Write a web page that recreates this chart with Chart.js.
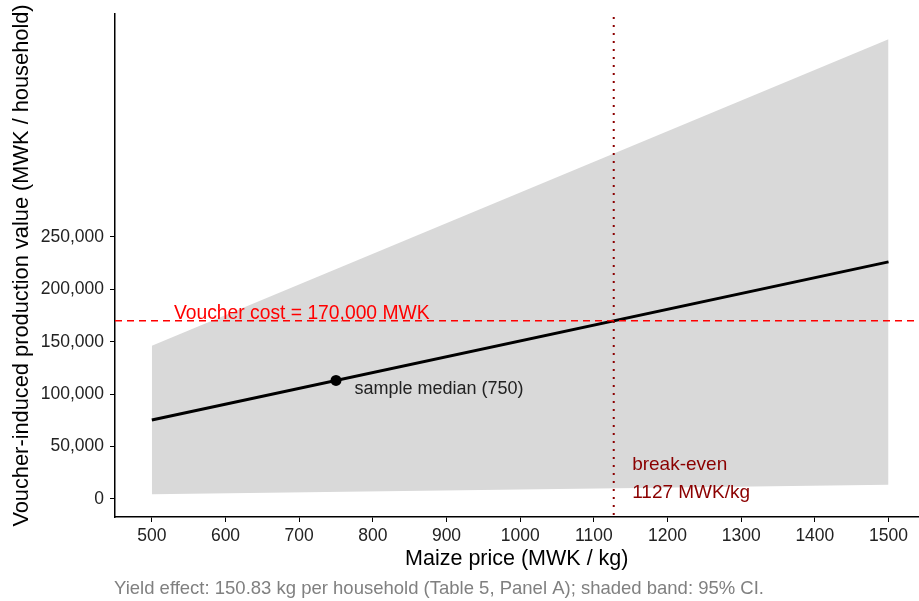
<!DOCTYPE html>
<html>
<head>
<script src="https://cdn.jsdelivr.net/npm/chart.js@4.4.0/dist/chart.umd.min.js"></script>
<style>html,body{margin:0;background:#fff;overflow:hidden;}</style>
</head>
<body>
<canvas id="chart" width="924" height="601"></canvas>
<script>
// maize price endpoints (MWK / kg) - the lines are straight
const prices = [500, 1500];
const valueMid = [75415, 226245];     // 150.83 kg * price
const valueLow = [4550, 13650];       // lower 95% CI
const valueHigh = [146250, 438750];   // upper 95% CI
const medianPrice = [750];
const medianValue = [113123];
const xTicks = [500, 600, 700, 800, 900, 1000, 1100, 1200, 1300, 1400, 1500];
const yTicks = [0, 50000, 100000, 150000, 200000, 250000];
const voucherCost = 170000;
const breakEven = 1127;

const FONT = '"Liberation Sans", Arial, Helvetica, sans-serif';
const pts = (xs, ys) => xs.map((x, i) => ({x: x, y: ys[i]}));

const notes = {
  id: 'notes',
  afterDatasetsDraw(chart) {
    const {ctx, chartArea: a, scales: {x, y}} = chart;
    ctx.save();
    // voucher cost line
    ctx.strokeStyle = '#ff0000';
    ctx.lineWidth = 1.5;
    ctx.setLineDash([7, 5]);
    const hy = y.getPixelForValue(voucherCost);
    ctx.beginPath(); ctx.moveTo(a.left, hy); ctx.lineTo(a.right, hy); ctx.stroke();
    // break-even line
    ctx.strokeStyle = '#8b0000';
    ctx.lineWidth = 2;
    ctx.setLineDash([2, 6]);
    const vx = x.getPixelForValue(breakEven);
    ctx.beginPath(); ctx.moveTo(vx, a.top + 3); ctx.lineTo(vx, a.bottom); ctx.stroke();
    ctx.setLineDash([]);

    ctx.textBaseline = 'middle';
    ctx.textAlign = 'left';
    ctx.fillStyle = '#ff0000';
    ctx.font = '19.3px ' + FONT;
    ctx.fillText('Voucher cost = ' + voucherCost.toLocaleString('en-US') + ' MWK',
      x.getPixelForValue(530), y.getPixelForValue(177000));
    ctx.fillStyle = '#222';
    ctx.font = '18px ' + FONT;
    ctx.fillText('sample median (' + medianPrice[0] + ')',
      x.getPixelForValue(775), y.getPixelForValue(105000));
    ctx.fillStyle = '#8b0000';
    ctx.font = '19px ' + FONT;
    ctx.fillText('break-even', x.getPixelForValue(1152), y.getPixelForValue(32400));
    ctx.fillText(breakEven + ' MWK/kg', x.getPixelForValue(1152), y.getPixelForValue(5700));

    // caption
    ctx.fillStyle = '#808080';
    ctx.font = '18.5px ' + FONT;
    ctx.fillText('Yield effect: 150.83 kg per household (Table 5, Panel A); shaded band: 95% CI.', a.left - 1, 589);
    ctx.restore();
  }
};

const axisStyle = {
  grid: {display: true, drawOnChartArea: false, drawTicks: true, tickLength: 5, color: '#000', lineWidth: 1},
  border: {display: true, color: '#000', width: 1.5}
};

new Chart(document.getElementById('chart').getContext('2d'), {
  type: 'line',
  data: {
    datasets: [
      {data: pts(prices, valueHigh), fill: '+1', backgroundColor: '#d9d9d9', borderWidth: 0, pointRadius: 0, order: 10},
      {data: pts(prices, valueLow), fill: false, borderWidth: 0, pointRadius: 0, order: 9},
      {data: pts(prices, valueMid), borderColor: '#000', borderWidth: 3, pointRadius: 0, fill: false, order: 2},
      {data: pts(medianPrice, medianValue), showLine: false, pointRadius: 5.5, pointBackgroundColor: '#000', pointBorderWidth: 0, order: 1}
    ]
  },
  options: {
    responsive: false,
    animation: false,
    layout: {padding: {top: 14, right: 0, bottom: 29, left: 0}},
    plugins: {legend: {display: false}, tooltip: {enabled: false}},
    scales: {
      x: {
        type: 'linear', min: 450, max: 1540.7,
        afterBuildTicks: s => { s.ticks = xTicks.map(v => ({value: v})); },
        afterFit: s => { s.height = 55; s.paddingLeft = 0; s.paddingRight = 0; },
        ticks: {color: '#222', font: {family: FONT, size: 17.5}, padding: 4, callback: v => String(v)},
        title: {display: true, text: 'Maize price (MWK / kg)', color: '#000', font: {family: FONT, size: 21.5}, padding: {top: 0, bottom: 0}},
        ...axisStyle
      },
      y: {
        min: -17200, max: 462800,
        afterBuildTicks: s => { s.ticks = yTicks.map(v => ({value: v})); },
        afterFit: s => { s.width = 115; s.paddingTop = 0; s.paddingBottom = 0; },
        ticks: {color: '#222', font: {family: FONT, size: 17.5}, padding: 6,
          callback: v => v.toLocaleString('en-US')},
        title: {display: true, text: 'Voucher-induced production value (MWK / household)', color: '#000', font: {family: FONT, size: 21.8}, padding: {top: 9, bottom: 0}},
        ...axisStyle
      }
    }
  },
  plugins: [notes]
});
</script>
</body>
</html>
